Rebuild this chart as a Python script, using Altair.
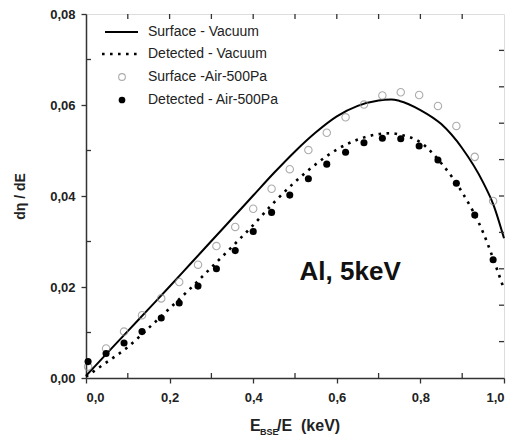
import altair as alt
import pandas as pd

# ---- data ----
line_x = [0.0, 0.05, 0.1, 0.15, 0.2, 0.25, 0.3, 0.35, 0.4, 0.45, 0.5, 0.55, 0.6,
          0.65, 0.7, 0.73, 0.75, 0.8, 0.85, 0.9, 0.95, 0.975, 1.0]
surface_vacuum = [0.0005, 0.0054, 0.0103, 0.0152, 0.0201, 0.0251, 0.0301, 0.0351, 0.0401,
                  0.0451, 0.0498, 0.0540, 0.0575, 0.0598, 0.0610, 0.0612, 0.0609, 0.0589,
                  0.0558, 0.0505, 0.0430, 0.0380, 0.0307]
detected_vacuum = [0.0003, 0.0035, 0.0068, 0.0110, 0.0153, 0.0197, 0.0243, 0.0289, 0.0336,
                   0.0386, 0.0431, 0.0470, 0.0502, 0.0524, 0.0536, 0.0538, 0.0535, 0.0518,
                   0.0472, 0.0408, 0.0320, 0.0260, 0.0195]

point_x = [0.005, 0.048, 0.091, 0.134, 0.180, 0.223, 0.268, 0.312, 0.357, 0.400, 0.444,
           0.4875, 0.532, 0.576, 0.621, 0.665, 0.709, 0.753, 0.797, 0.842, 0.886, 0.930, 0.974]
surface_air = [0.0025, 0.0065, 0.0102, 0.0138, 0.0175, 0.0211, 0.0249, 0.0290, 0.0332,
               0.0372, 0.0416, 0.0459, 0.0501, 0.0539, 0.0573, 0.0601, 0.0621, 0.0628,
               0.0622, 0.0598, 0.0554, 0.0486, 0.0389]
detected_air = [0.0036, 0.0054, 0.0077, 0.0102, 0.0132, 0.0165, 0.0202, 0.0240, 0.0280,
                0.0322, 0.0364, 0.0402, 0.0438, 0.0470, 0.0496, 0.0517, 0.0527, 0.0526,
                0.0510, 0.0479, 0.0428, 0.0358, 0.0260]

legend_labels = ["Surface - Vacuum", "Detected - Vacuum", "Surface -Air-500Pa", "Detected - Air-500Pa"]

x_major_ticks = [0.0, 0.2, 0.4, 0.6, 0.8, 1.0]
x_minor_ticks = [0.1, 0.3, 0.5, 0.7, 0.9]
x_top_ticks = [0.1, 0.2, 0.3, 0.4, 0.5, 0.6, 0.7, 0.8, 0.9]
y_major_ticks = [0.0, 0.02, 0.04, 0.06, 0.08]
y_minor_ticks = [0.01, 0.03, 0.05, 0.07]
y_right_ticks = [0.008, 0.016, 0.024, 0.032, 0.040, 0.048, 0.056, 0.064, 0.072]

W, H = 418, 364
TOP = 6  # svg padding; plot starts at page y = 8 + TOP
FONT = "Liberation Sans"

lines_df = pd.DataFrame({"x": line_x, "sv": surface_vacuum, "dv": detected_vacuum})
pts_df = pd.DataFrame({"x": point_x, "sa": surface_air, "da": detected_air})

xs = alt.Scale(domain=[0, 1.0], nice=False, zero=False)
ys = alt.Scale(domain=[0, 0.08], nice=False, zero=False)

xaxis = alt.Axis(values=x_major_ticks, labelExpr="replace(format(datum.value, '.1f'), '.', ',')",
                 tickSize=5, labelPadding=8, labelFontSize=13, labelFontWeight="bold",
                 labelFont=FONT, labelColor="#222", grid=False, title=None,
                 domainColor="#333", domainWidth=1.5, tickColor="#333", tickWidth=1.3)
yaxis = alt.Axis(values=y_major_ticks, labelExpr="replace(format(datum.value, '.2f'), '.', ',')",
                 tickSize=5, labelPadding=6, labelFontSize=13, labelFontWeight="bold",
                 labelFont=FONT, labelColor="#222", grid=False, title="dη / dE",
                 titleFont=FONT, titleFontSize=14, titleFontWeight="bold", titleColor="#222",
                 titlePadding=22, domainColor="#333", domainWidth=1.5, tickColor="#333", tickWidth=1.3)

base_l = alt.Chart(lines_df)
solid = base_l.mark_line(color="black", strokeWidth=2, interpolate="monotone").encode(
    x=alt.X("x:Q", scale=xs, axis=xaxis), y=alt.Y("sv:Q", scale=ys, axis=yaxis))
dotted = base_l.mark_line(color="black", strokeWidth=2.6, strokeDash=[2.6, 5.4],
                          interpolate="monotone").encode(
    x=alt.X("x:Q", scale=xs), y=alt.Y("dv:Q", scale=ys))

base_p = alt.Chart(pts_df)
open_pts = base_p.mark_point(shape="circle", filled=False, color="#8a8a8a", strokeWidth=1.1, size=55).encode(
    x=alt.X("x:Q", scale=xs), y=alt.Y("sa:Q", scale=ys))
filled_pts = base_p.mark_point(shape="circle", filled=True, color="black", opacity=1, size=50).encode(
    x=alt.X("x:Q", scale=xs), y=alt.Y("da:Q", scale=ys))

# inner ticks
tick_col = "#333"
bot_minor = alt.Chart(pd.DataFrame({"v": x_minor_ticks})).mark_rule(color=tick_col, strokeWidth=1.3).encode(
    x=alt.X("v:Q", scale=xs), y=alt.value(H), y2=alt.value(H - 5))
top_ticks = alt.Chart(pd.DataFrame({"v": x_top_ticks})).mark_rule(color=tick_col, strokeWidth=1.3).encode(
    x=alt.X("v:Q", scale=xs), y=alt.value(0), y2=alt.value(5))
left_minor = alt.Chart(pd.DataFrame({"v": y_minor_ticks})).mark_rule(color=tick_col, strokeWidth=1.3).encode(
    y=alt.Y("v:Q", scale=ys), x=alt.value(0), x2=alt.value(5))
right_ticks = alt.Chart(pd.DataFrame({"v": y_right_ticks})).mark_rule(color=tick_col, strokeWidth=1.3).encode(
    y=alt.Y("v:Q", scale=ys), x=alt.value(W), x2=alt.value(W - 5))

# legend (page y positions 32, 54, 77, 100)
leg_rows = [32 - 8 - TOP, 54 - 8 - TOP, 77 - 8 - TOP, 100 - 8 - TOP]
leg_df = pd.DataFrame({"label": legend_labels, "row": leg_rows})
leg_text = alt.Chart(leg_df).mark_text(align="left", baseline="middle", font=FONT, fontSize=14,
                                       color="#222").encode(
    x=alt.value(62), y=alt.Y("row:Q", scale=None), text="label:N")
leg_solid = alt.Chart(leg_df.iloc[[0]]).mark_rule(color="black", strokeWidth=2).encode(
    x=alt.value(19), x2=alt.value(52), y=alt.Y("row:Q", scale=None))
leg_dot = alt.Chart(leg_df.iloc[[1]]).mark_rule(color="black", strokeWidth=2.6, strokeDash=[2.6, 5.4]).encode(
    x=alt.value(16), x2=alt.value(56), y=alt.Y("row:Q", scale=None))
leg_open = alt.Chart(leg_df.iloc[[2]]).mark_point(shape="circle", filled=False, color="#8a8a8a",
                                                  strokeWidth=1.1, size=45).encode(
    x=alt.value(36), y=alt.Y("row:Q", scale=None))
leg_fill = alt.Chart(leg_df.iloc[[3]]).mark_point(shape="circle", filled=True, color="black",
                                                  opacity=1, size=45).encode(
    x=alt.value(36), y=alt.Y("row:Q", scale=None))

# annotation
anno = alt.Chart(pd.DataFrame({"x": [0.511], "y": [0.0215], "t": ["Al, 5keV"]})).mark_text(
    align="left", baseline="alphabetic", font=FONT, fontSize=26, fontWeight="bold", color="#111").encode(
    x=alt.X("x:Q", scale=xs), y=alt.Y("y:Q", scale=ys), text="t:N")

# x axis title with subscript
xt_df = pd.DataFrame({"t": ["E", "BSE", "/E\u00a0 (keV)"], "px": [164, 174, 191],
                      "py": [431 - 8 - TOP, 435 - 8 - TOP, 431 - 8 - TOP]})
xt_main = alt.Chart(xt_df.iloc[[0, 2]]).mark_text(align="left", baseline="alphabetic", font=FONT,
                                                  fontSize=16, fontWeight="bold", color="#222").encode(
    x=alt.X("px:Q", scale=None), y=alt.Y("py:Q", scale=None), text="t:N")
xt_sub = alt.Chart(xt_df.iloc[[1]]).mark_text(align="left", baseline="alphabetic", font=FONT,
                                              fontSize=9, fontWeight="bold", color="#222").encode(
    x=alt.X("px:Q", scale=None), y=alt.Y("py:Q", scale=None), text="t:N")

chart = alt.layer(
    solid, dotted, open_pts, filled_pts, bot_minor, top_ticks, left_minor, right_ticks,
    leg_solid, leg_dot, leg_open, leg_fill, leg_text, anno, xt_main, xt_sub
).properties(
    width=W, height=H,
    autosize=alt.AutoSizeParams(type="none"),
    padding={"left": 78, "top": TOP, "right": 2, "bottom": 60},
).configure_view(stroke="#333", strokeWidth=1.5).configure(background="white")

chart.save("out.html", embed_options={"renderer": "svg", "actions": False})
